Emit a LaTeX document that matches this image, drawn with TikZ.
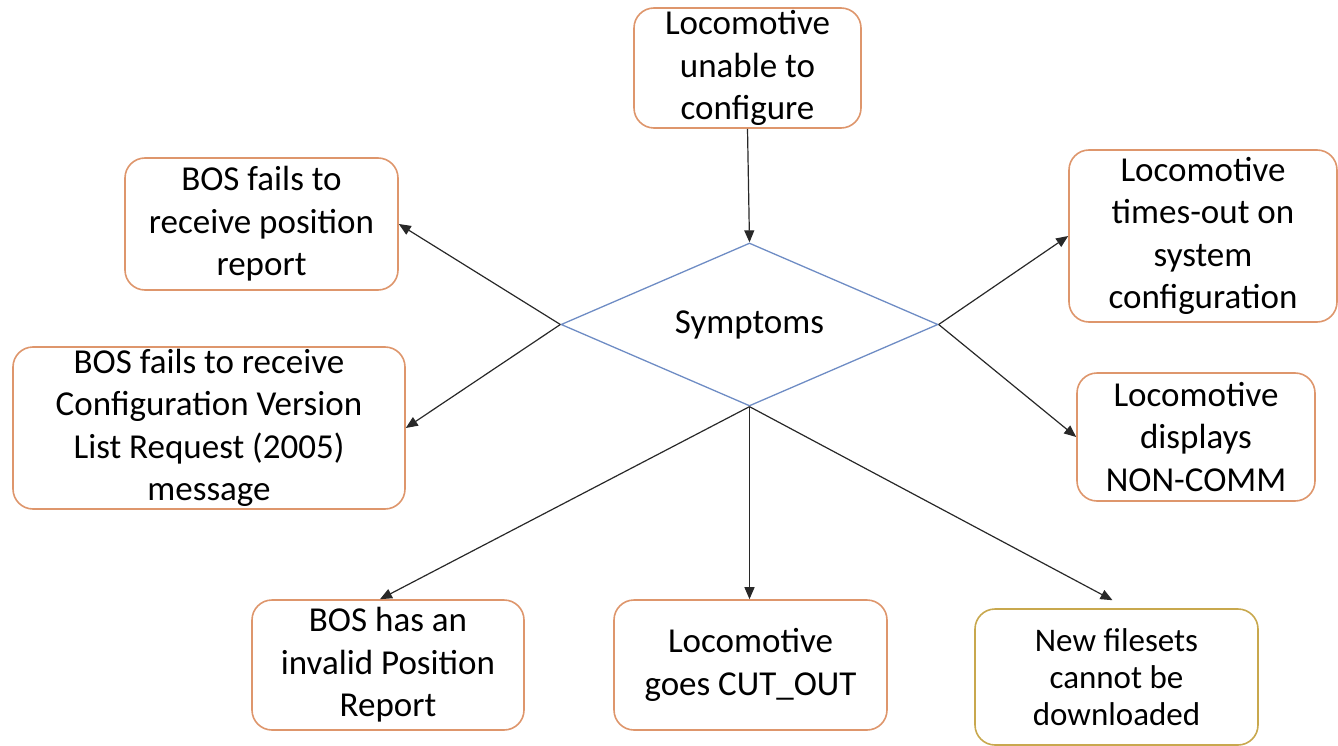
\documentclass[tikz,border=0pt]{standalone}
\usepackage{fontspec}
\setmainfont{Carlito}
\usetikzlibrary{shapes.geometric,arrows.meta,calc}
\definecolor{boxorange}{RGB}{222,150,108}
\definecolor{boxgold}{RGB}{200,168,78}
\definecolor{diablue}{RGB}{110,140,196}
\definecolor{arrowgray}{RGB}{40,40,40}
\begin{document}
\begin{tikzpicture}[x=1pt,y=-1pt,
  card/.style={draw=boxorange, line width=1.6pt, rounded corners=20pt, fill=white,
    align=center, inner sep=0pt, font=\fontsize{35}{42.5}\selectfont},
  goldcard/.style={card, draw=boxgold, font=\fontsize{33}{37}\selectfont},
  hub/.style={draw=diablue, line width=1.3pt, diamond, aspect=2.3, inner sep=0pt,
    minimum width=377pt, minimum height=163pt, font=\fontsize{35}{42}\selectfont},
  link/.style={draw=arrowgray, line width=1.2pt, -{Triangle[length=12pt,width=10pt]}}]
\useasboundingbox (0,0) rectangle (1338,746);

% central diamond
\node[hub] (sym) at (749.5,324.5) {Symptoms};

% surrounding symptom boxes
\node[card, minimum width=227pt, minimum height=120pt] (top) at (747.5,68)
  {Locomotive\\unable to\\configure};
\node[card, minimum width=273pt, minimum height=132pt] (pos) at (261.5,224)
  {BOS fails to\\receive position\\report};
\node[card, minimum width=392pt, minimum height=162pt] (cfg) at (209,428)
  {BOS fails to receive\\Configuration Version\\List Request (2005)\\message};
\node[card, minimum width=268pt, minimum height=172pt] (tmo) at (1203,236)
  {Locomotive\\times-out on\\system\\configuration};
\node[card, minimum width=238pt, minimum height=128pt] (ncm) at (1196,437)
  {Locomotive\\displays\\NON-COMM};
\node[card, minimum width=272pt, minimum height=130pt] (inv) at (388,665)
  {BOS has an\\invalid Position\\Report};
\node[card, minimum width=273pt, minimum height=130pt] (cut) at (750.5,665)
  {Locomotive\\goes CUT\_OUT};
\node[goldcard, minimum width=283pt, minimum height=136pt] (fil) at (1116.5,677)
  {New filesets\\cannot be\\downloaded};

% connectors
\draw[link] (top.south) -- (sym.north);
\draw[link] (sym.west) -- (pos.east);
\draw[link] (sym.west) -- (cfg.east);
\draw[link] (sym.east) -- (tmo.west);
\draw[link] (sym.east) -- (ncm.west);
\draw[link] (sym.south) -- ($(inv.north)+(-8,0)$);
\draw[link] (sym.south) -- (sym.south |- cut.north);
\draw[link] (sym.south) -- ($(fil.north)+(-4,-8)$);
\end{tikzpicture}
\end{document}
